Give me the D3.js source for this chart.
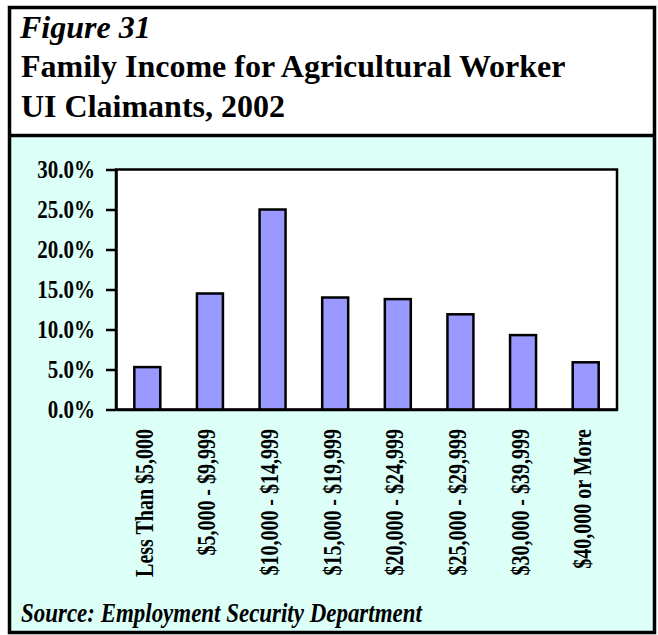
<!DOCTYPE html>
<html>
<head>
<meta charset="utf-8">
<script src="https://cdn.jsdelivr.net/npm/d3@7"></script>
<style>
  html, body { margin: 0; padding: 0; background: #ffffff; }
  svg { display: block; }
  text { font-family: "Liberation Serif", "Times New Roman", serif; fill: #000; }
</style>
</head>
<body>
<svg id="chart" width="658" height="635"></svg>
<script>
// Income brackets and share of claimants in each
const categories = [
  "Less Than $5,000",
  "$5,000 - $9,999",
  "$10,000 - $14,999",
  "$15,000 - $19,999",
  "$20,000 - $24,999",
  "$25,000 - $29,999",
  "$30,000 - $39,999",
  "$40,000 or More"
];
const shares = [0.053, 0.145, 0.250, 0.140, 0.138, 0.119, 0.093, 0.059];
const yTicks = [0, 0.05, 0.10, 0.15, 0.20, 0.25, 0.30];

const titleLines = ["Family Income for Agricultural Worker", "UI Claimants, 2002"];
const figureLabel = "Figure 31";
const sourceNote = "Source: Employment Security Department";

const svg = d3.select("#chart");

// Frame: white title block over a pale cyan chart panel
const box = { x: 9.5, y: 7.5, w: 645, h: 625 };
const divideY = 135.5;

svg.append("rect")
  .attr("x", box.x).attr("y", divideY)
  .attr("width", box.w).attr("height", box.y + box.h - divideY)
  .attr("fill", "#dcfff8");
svg.append("rect")
  .attr("x", box.x).attr("y", box.y)
  .attr("width", box.w).attr("height", divideY - box.y)
  .attr("fill", "#ffffff");
svg.append("line")
  .attr("x1", box.x).attr("x2", box.x + box.w)
  .attr("y1", divideY).attr("y2", divideY)
  .attr("stroke", "#000").attr("stroke-width", 3.5);
svg.append("rect")
  .attr("x", box.x).attr("y", box.y)
  .attr("width", box.w).attr("height", box.h)
  .attr("fill", "none").attr("stroke", "#000").attr("stroke-width", 3.5);

// Titles
svg.append("text")
  .attr("x", 20).attr("y", 37.5)
  .attr("font-size", 32).attr("font-weight", "bold").attr("font-style", "italic")
  .text(figureLabel);
svg.selectAll("text.title")
  .data(titleLines)
  .enter().append("text")
  .attr("class", "title")
  .attr("x", 21)
  .attr("y", (d, i) => 77 + i * 40)
  .attr("font-size", 32).attr("font-weight", "bold")
  .text(d => d);

// Plot area
const plot = { left: 116, right: 617, top: 169.5, bottom: 409.5 };
const squeeze = 0.84;   // narrow face used for the chart lettering
const labelSqueeze = 0.8;

const x = d3.scaleBand()
  .domain(categories)
  .range([plot.left, plot.right])
  .paddingInner(0.585)
  .paddingOuter(0.2925);

const y = d3.scaleLinear()
  .domain([0, 0.30])
  .range([plot.bottom, plot.top]);

svg.append("rect")
  .attr("x", plot.left).attr("y", plot.top)
  .attr("width", plot.right - plot.left).attr("height", plot.bottom - plot.top)
  .attr("fill", "#ffffff").attr("stroke", "#000").attr("stroke-width", 2.5);

// Bars
svg.selectAll("rect.bar")
  .data(shares)
  .enter().append("rect")
  .attr("class", "bar")
  .attr("x", (d, i) => x(categories[i]))
  .attr("width", x.bandwidth())
  .attr("y", d => y(d))
  .attr("height", d => y(0) - y(d))
  .attr("fill", "#9999ff")
  .attr("stroke", "#000")
  .attr("stroke-width", 2.5);

// Y axis
const yAxis = d3.axisLeft(y)
  .tickValues(yTicks)
  .tickFormat(d3.format(".1%"))
  .tickSize(10)
  .tickSizeOuter(0)
  .tickPadding(11);

const gy = svg.append("g")
  .attr("transform", `translate(${plot.left},0)`)
  .call(yAxis);
gy.select(".domain").attr("stroke", "#000").attr("stroke-width", 2.5);
gy.selectAll(".tick line").attr("stroke", "#000").attr("stroke-width", 2.5);
gy.selectAll(".tick text")
  .attr("font-family", null)
  .attr("font-size", 25)
  .attr("font-weight", "bold")
  .attr("fill", "#000")
  .each(function () {
    const t = d3.select(this);
    const tx = +t.attr("x");
    t.attr("x", 0).attr("transform", `translate(${tx},0) scale(${squeeze},1)`);
  });

// X axis with rotated labels reading bottom to top
const xAxis = d3.axisBottom(x).tickSize(0).tickSizeOuter(0);
const gx = svg.append("g")
  .attr("transform", `translate(0,${plot.bottom})`)
  .call(xAxis);
gx.select(".domain").attr("stroke", "#000").attr("stroke-width", 2.5);
gx.selectAll(".tick text")
  .attr("font-family", null)
  .attr("font-size", 25)
  .attr("font-weight", "bold")
  .attr("fill", "#000")
  .attr("text-anchor", "end")
  .attr("x", 0).attr("y", 0).attr("dy", 5.5)
  .attr("transform", `translate(0,19.5) rotate(-90) scale(${labelSqueeze},1)`);

// Source note
svg.append("text")
  .attr("x", 21).attr("y", 622)
  .attr("font-size", 27).attr("font-weight", "bold").attr("font-style", "italic")
  .attr("transform", `translate(21,0) scale(0.85,1) translate(-21,0)`)
  .text(sourceNote);
</script>
</body>
</html>
